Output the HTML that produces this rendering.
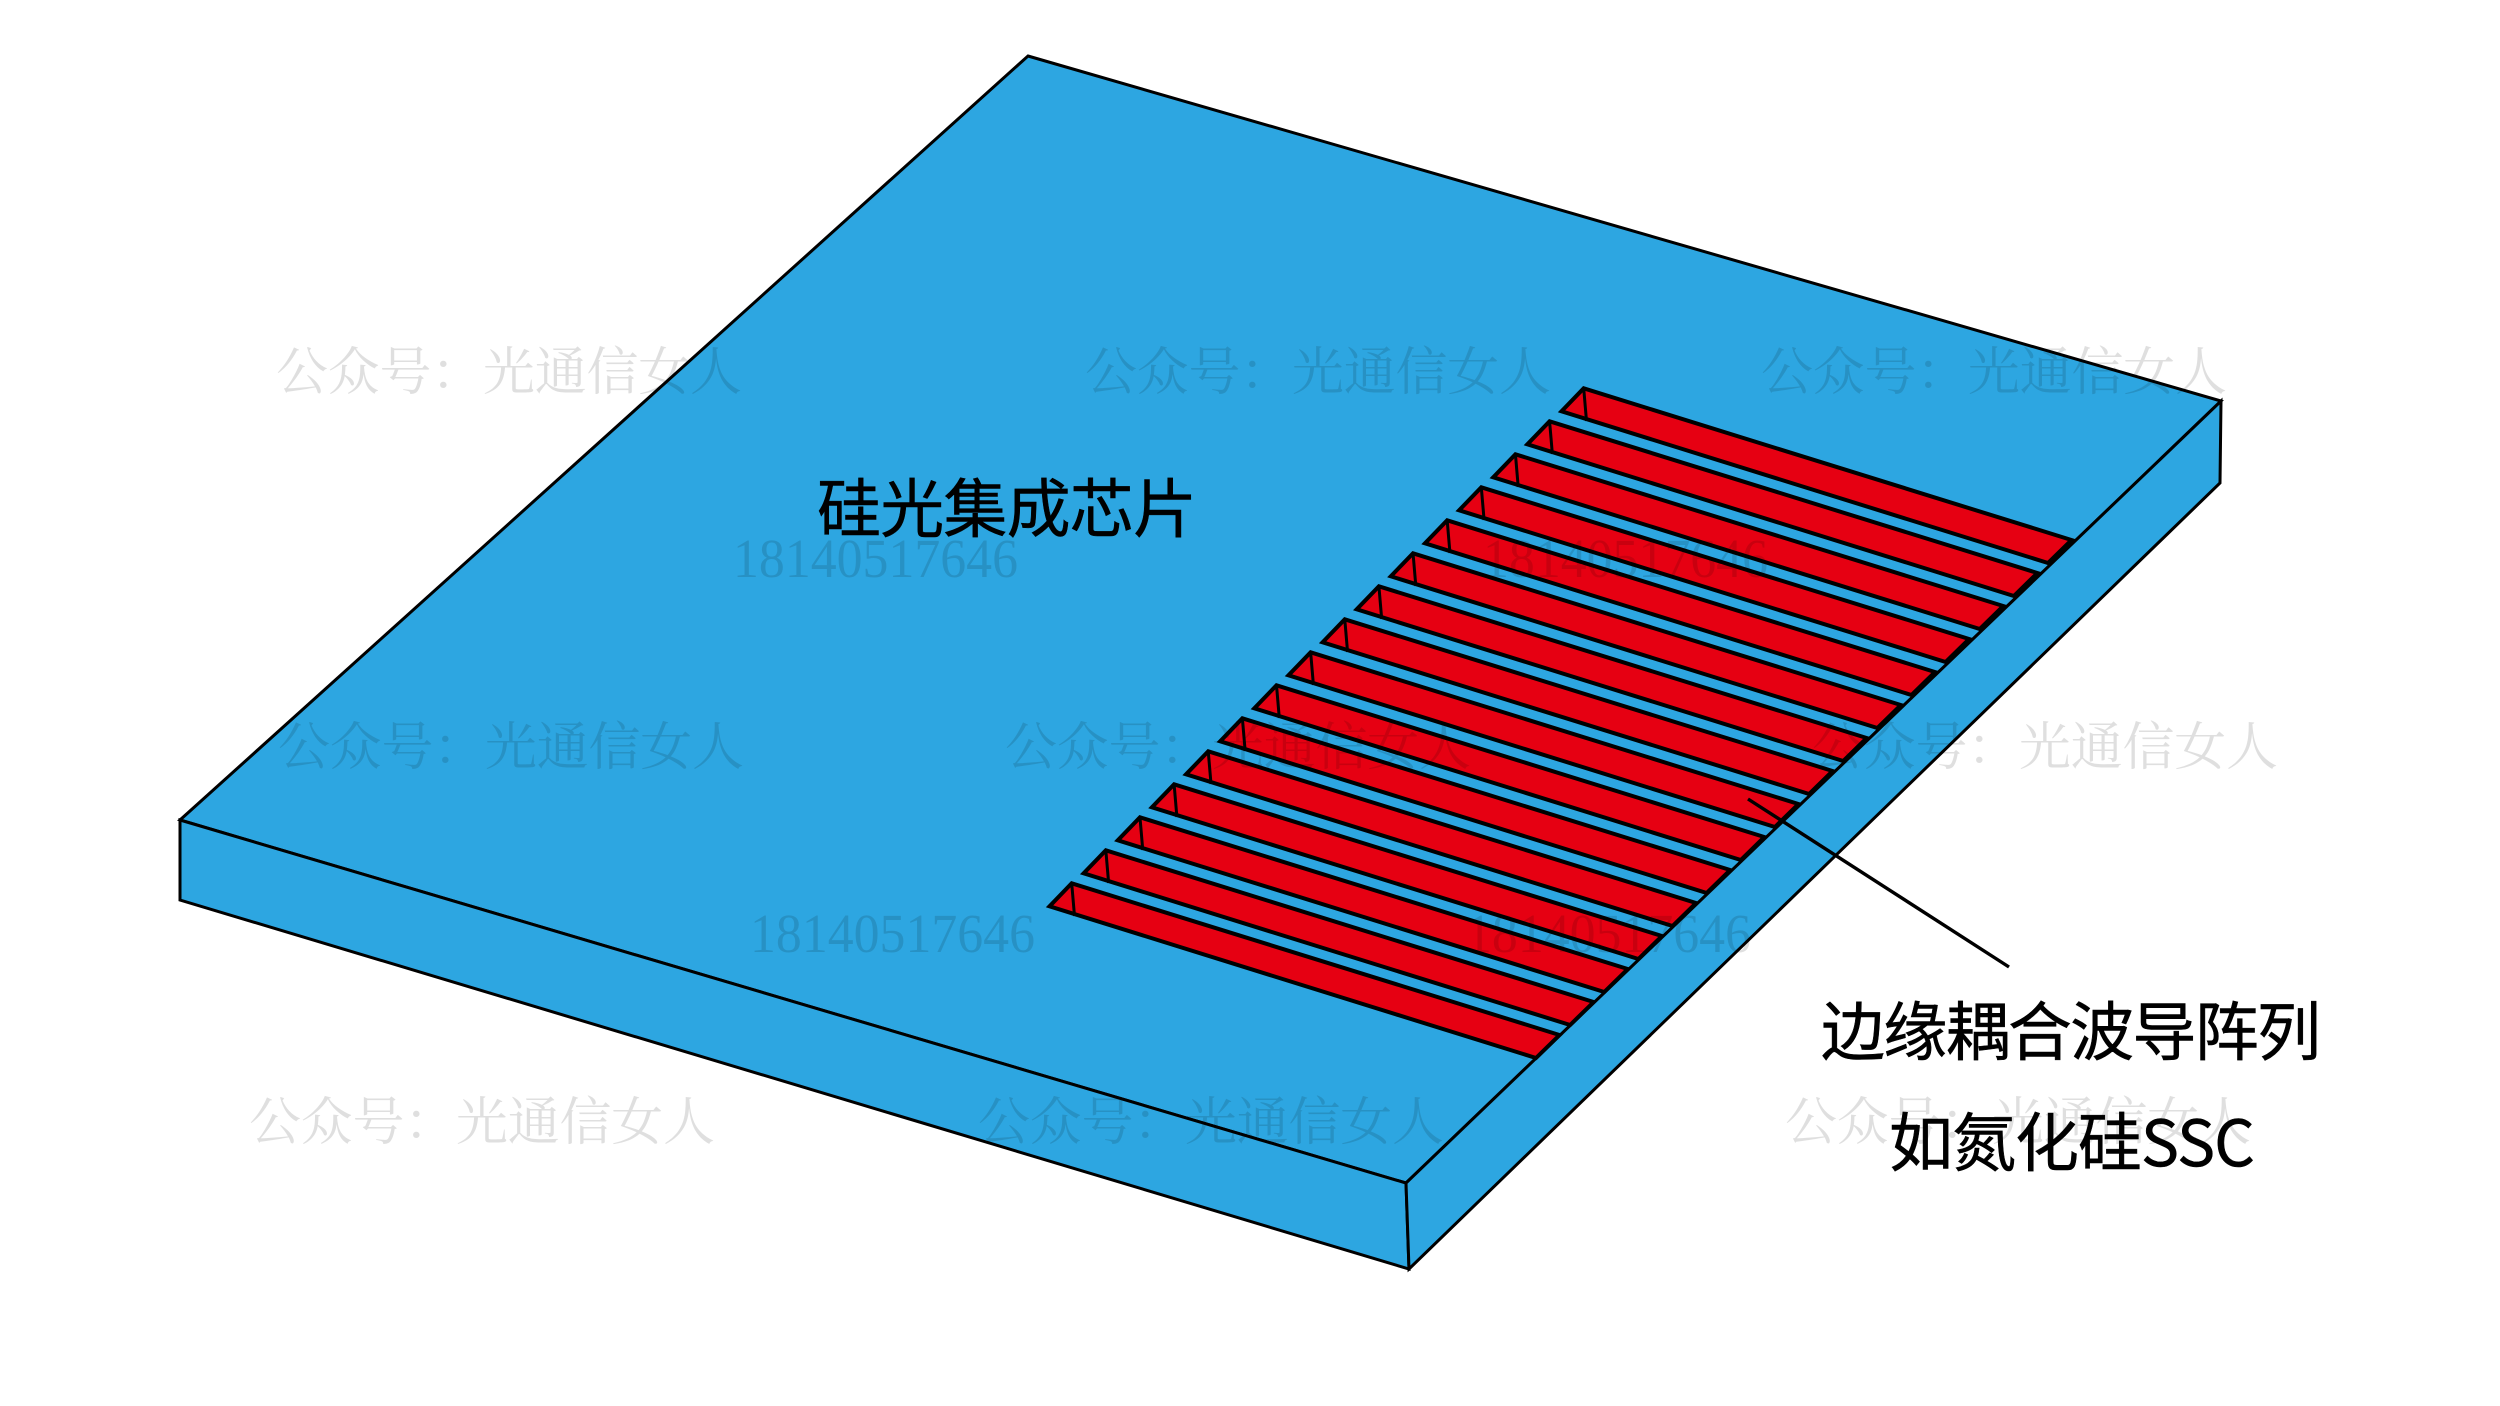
<!DOCTYPE html>
<html lang="zh">
<head>
<meta charset="utf-8">
<title>硅光集成芯片</title>
<style>
html,body{margin:0;padding:0;background:#fff;width:2500px;height:1406px;overflow:hidden}
svg{display:block}
.wm{font-family:"Liberation Serif","Noto Serif CJK SC",serif;font-size:52px;fill:#000;fill-opacity:.125}
.lb{font-family:"Noto Sans CJK SC","Liberation Sans",sans-serif;font-size:64px;fill:#000;stroke:#000;stroke-width:.5px}
</style>
</head>
<body>
<svg xmlns="http://www.w3.org/2000/svg" width="2500" height="1406" viewBox="0 0 2500 1406">
<rect width="2500" height="1406" fill="#fff"/>
<g fill="#2DA6E1" stroke="#000" stroke-width="3" stroke-linejoin="miter">
<polygon points="1028,56 2221,401 1406,1183 180,820"/>
<polygon points="180,820 1406,1183 1409,1269 180,900"/>
<polygon points="1406,1183 2221,401 2220,483 1409,1269"/>
</g>
<defs>
<g id="s">
<polygon points="1583.7,388.3 2071.5,540 2048,563 1561.5,411.3" fill="#E60012" stroke="#000" stroke-width="4" stroke-linejoin="miter"/>
<line x1="1583.7" y1="388.3" x2="1586.5" y2="421" stroke="#000" stroke-width="3"/>
</g>
</defs>
<use href="#s" transform="translate(0,0)"/>
<use href="#s" transform="translate(-34.13,33)"/>
<use href="#s" transform="translate(-68.27,66)"/>
<use href="#s" transform="translate(-102.4,99)"/>
<use href="#s" transform="translate(-136.53,132)"/>
<use href="#s" transform="translate(-170.67,165)"/>
<use href="#s" transform="translate(-204.8,198)"/>
<use href="#s" transform="translate(-238.93,231)"/>
<use href="#s" transform="translate(-273.07,264)"/>
<use href="#s" transform="translate(-307.2,297)"/>
<use href="#s" transform="translate(-341.33,330)"/>
<use href="#s" transform="translate(-375.47,363)"/>
<use href="#s" transform="translate(-409.6,396)"/>
<use href="#s" transform="translate(-443.73,429)"/>
<use href="#s" transform="translate(-477.87,462)"/>
<use href="#s" transform="translate(-512,495)"/>
<line x1="1748" y1="799" x2="2009" y2="967" stroke="#000" stroke-width="3.4"/>
<text class="lb" x="817" y="532" textLength="380">硅光集成芯片</text>
<text class="lb" x="1821" y="1055" textLength="500">边缘耦合波导阵列</text>
<text class="lb" x="1889" y="1166" textLength="366">如氮化硅SSC</text>
<g class="wm">
<text x="276" y="390" textLength="466">公众号：光通信女人</text>
<text x="1085" y="390" textLength="466">公众号：光通信女人</text>
<text x="1761" y="390" textLength="466">公众号：光通信女人</text>
<text x="278" y="765" textLength="466">公众号：光通信女人</text>
<text x="1005" y="765" textLength="466">公众号：光通信女人</text>
<text x="1812" y="765" textLength="466">公众号：光通信女人</text>
<text x="249" y="1140" textLength="466">公众号：光通信女人</text>
<text x="978" y="1140" textLength="466">公众号：光通信女人</text>
<text x="1785" y="1140" textLength="466">公众号：光通信女人</text>
<text x="733" y="577" style="font-size:55px" textLength="285" lengthAdjust="spacingAndGlyphs">18140517646</text>
<text x="1483" y="577" style="font-size:55px" textLength="285" lengthAdjust="spacingAndGlyphs">18140517646</text>
<text x="750" y="952" style="font-size:55px" textLength="285" lengthAdjust="spacingAndGlyphs">18140517646</text>
<text x="1466" y="952" style="font-size:55px" textLength="285" lengthAdjust="spacingAndGlyphs">18140517646</text>
</g>
</svg>
</body>
</html>
